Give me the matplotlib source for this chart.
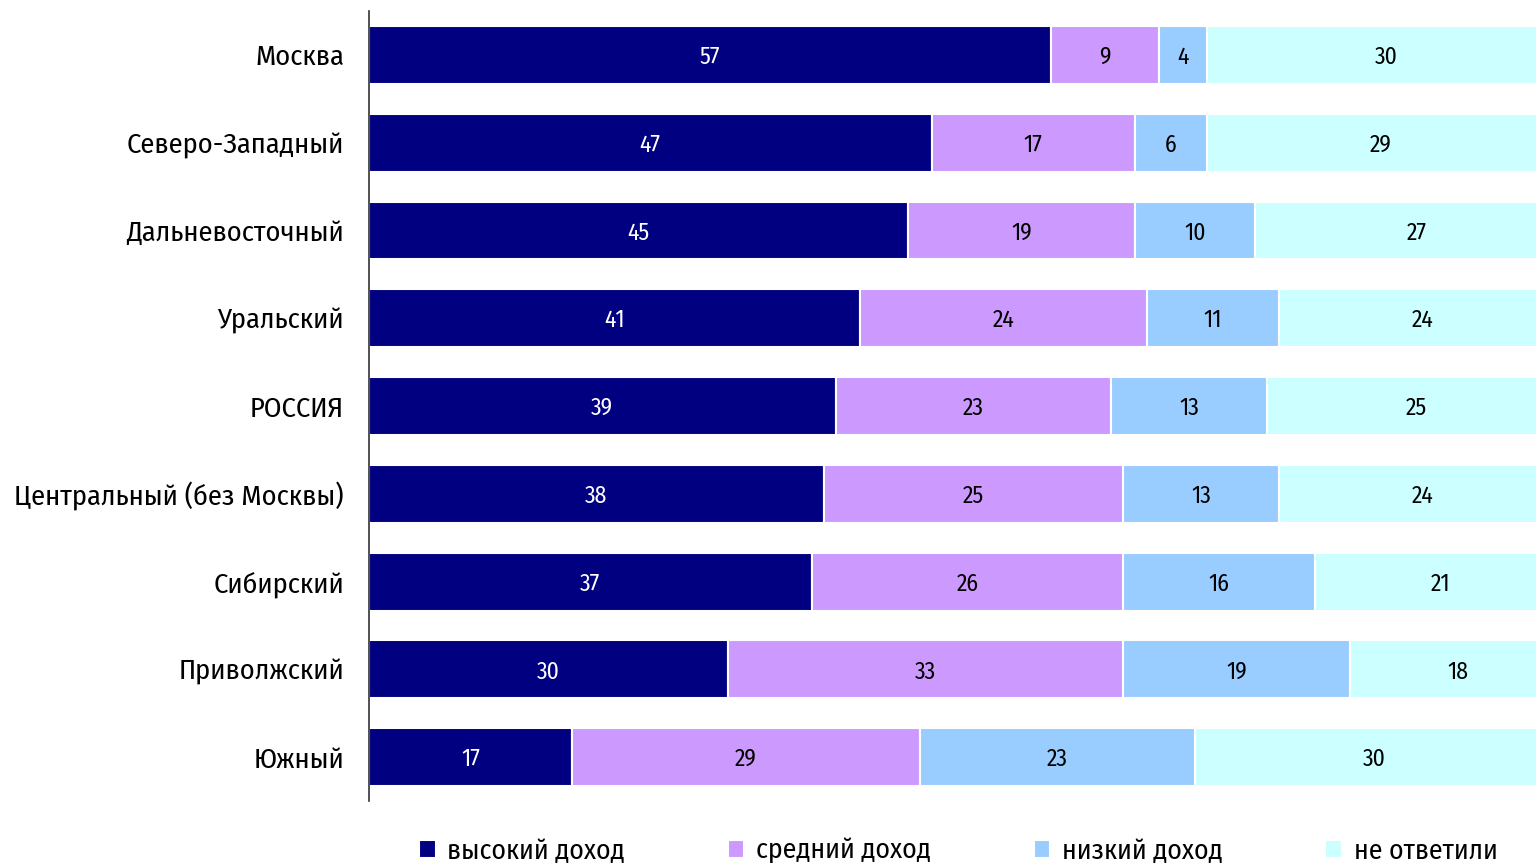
import matplotlib.pyplot as plt
import numpy as np

plt.rcParams['font.family'] = ['Fira Sans Condensed', 'DejaVu Sans']

regions = ["Москва", "Северо-Западный", "Дальневосточный", "Уральский", "РОССИЯ",
           "Центральный (без Москвы)", "Сибирский", "Приволжский", "Южный"]
high = [57, 47, 45, 41, 39, 38, 37, 30, 17]
middle = [9, 17, 19, 24, 23, 25, 26, 33, 29]
low = [4, 6, 10, 11, 13, 13, 16, 19, 23]
no_answer = [30, 29, 27, 24, 25, 24, 21, 18, 30]

series = [high, middle, low, no_answer]
names = ["высокий доход", "средний доход", "низкий доход", "не ответили"]
colors = ["#000080", "#CC99FF", "#99CCFF", "#CCFFFF"]
text_colors = ["white", "black", "black", "black"]

fig = plt.figure(figsize=(15.36, 8.63), dpi=100)
ax = fig.add_axes([0.2402, 0.0718, 0.7598, 0.9154])

y = np.arange(len(regions))
left = np.zeros(len(regions))
for vals, name, col, tcol in zip(series, names, colors, text_colors):
    vals = np.array(vals, dtype=float)
    ax.barh(y, vals, left=left, height=0.66, color=col, edgecolor="white",
            linewidth=1.5, label=name)
    for yi, l, v in zip(y, left, vals):
        ax.text(l + v / 2, yi, f"{int(v)}", ha="center", va="center_baseline",
                color=tcol, fontsize=17)
    left += vals

ax.set_ylim(len(regions) - 0.5, -0.5)
ax.set_xlim(0, 97.5)
ax.set_yticks(y)
ax.set_yticklabels(regions, fontsize=20.5)
ax.tick_params(axis="y", length=0, pad=18)
ax.set_xticks([])
for s in ["top", "right", "bottom"]:
    ax.spines[s].set_visible(False)
ax.spines["left"].set_color("#333333")
ax.spines["left"].set_linewidth(1.2)

ax.legend(loc="upper center", bbox_to_anchor=(0.505, -0.032), ncol=4, frameon=False,
          fontsize=20, handlelength=0.6, handleheight=0.6, handletextpad=0.42,
          columnspacing=3.7, borderaxespad=0)

fig.savefig("out.png", dpi=100)
